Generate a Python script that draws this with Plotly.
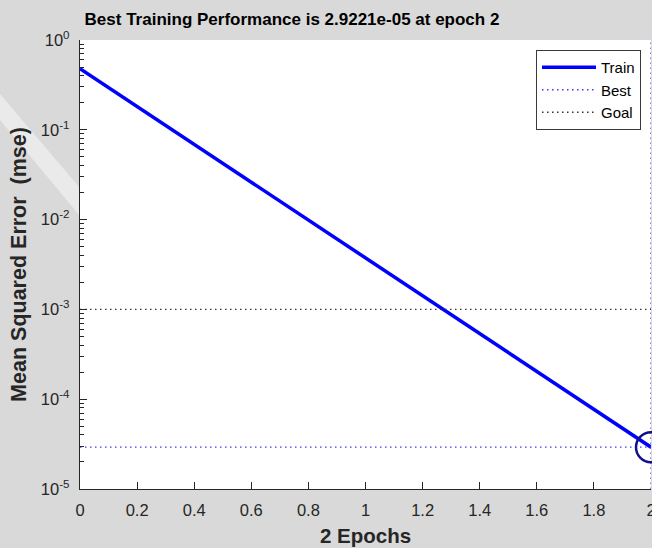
import plotly.graph_objects as go

epochs = [0, 1, 2]
train_mse = [0.48, 3.74e-3, 2.9221e-05]
best_epoch = 2
best_perf = 2.9221e-05
goal = 1e-3
x_ticks = [0, 0.2, 0.4, 0.6, 0.8, 1, 1.2, 1.4, 1.6, 1.8, 2]
x_tick_labels = ["0", "0.2", "0.4", "0.6", "0.8", "1", "1.2", "1.4", "1.6", "1.8", "2"]
y_ticks = [1, 1e-1, 1e-2, 1e-3, 1e-4, 1e-5]
y_tick_labels = ["10<sup>0</sup>", "10<sup>-1</sup>", "10<sup>-2</sup>", "10<sup>-3</sup>",
                 "10<sup>-4</sup>", "10<sup>-5</sup>"]

minor_vals = [m * 10 ** e for e in range(-5, 0) for m in range(2, 10)]

font = "Liberation Sans, Arial, sans-serif"
dotted = "1.5px,3.5px"

fig = go.Figure()
fig.add_trace(go.Scatter(x=epochs, y=train_mse, mode="lines", name="Train",
                         line=dict(color="#0000ff", width=3.5)))
fig.add_trace(go.Scatter(x=[epochs[0], epochs[-1]], y=[best_perf, best_perf], mode="lines",
                         name="Best", line=dict(color="#3c3cf0", width=1.3, dash=dotted)))
fig.add_trace(go.Scatter(x=[epochs[0], epochs[-1]], y=[goal, goal], mode="lines",
                         name="Goal", line=dict(color="#333333", width=1.3, dash=dotted)))
fig.add_trace(go.Scatter(x=[best_epoch, best_epoch], y=[1e-5, 1], mode="lines",
                         showlegend=False, line=dict(color="#3c3cf0", width=1.3, dash=dotted),
                         cliponaxis=False))
fig.add_trace(go.Scatter(x=[best_epoch], y=[best_perf], mode="markers", showlegend=False,
                         marker=dict(symbol="circle-open", size=30, color="#10108a",
                                     line=dict(width=2.5, color="#10108a")),
                         cliponaxis=False))


# faint watermark band in the figure background
def px_x(p):
    return (p - 80) / 571


def px_y(p):
    return (489 - p) / 449


band = [(0, 94), (0, 120), (80, 216), (80, 188)]
path = "M " + " L ".join(f"{px_x(a):.4f},{px_y(b):.4f}" for a, b in band) + " Z"

fig.update_layout(
    width=652, height=548,
    margin=dict(l=80, r=1, t=40, b=59, autoexpand=False),
    paper_bgcolor="#d9d9d9",
    plot_bgcolor="#ffffff",
    font=dict(family=font, size=16.5, color="#262626"),
    title=dict(text="<b>Best Training Performance is 2.9221e-05 at epoch 2</b>",
               x=292 / 652, xanchor="center", xref="container",
               y=1 - 19 / 548, yanchor="middle", yref="container",
               font=dict(size=17, color="#000000")),
    showlegend=True,
    hovermode=False,
    legend=dict(x=(641 - 80) / 571, y=px_y(50), xanchor="right", yanchor="top",
                bgcolor="#ffffff", bordercolor="#3a3a3a", borderwidth=1,
                font=dict(size=15, color="#000000"),
                itemwidth=54, tracegroupgap=0),
    shapes=[dict(type="path", path=path, xref="paper", yref="paper",
                 fillcolor="rgba(255,255,255,0.45)", line=dict(width=0), layer="below")],
    xaxis=dict(range=[0, 2], tickvals=x_ticks, ticktext=x_tick_labels, automargin=False,
               ticks="inside", ticklen=7, tickcolor="#262626", showgrid=False,
               ticklabelstandoff=6, ticklabeloverflow="allow",
               zeroline=False, showline=True, linecolor="#262626", linewidth=1.2,
               title=dict(text="<b>2 Epochs</b>", font=dict(size=20.5, color="#262626"),
                          standoff=10)),
    yaxis=dict(type="log", range=[-5, 0], tickvals=y_ticks, ticktext=y_tick_labels,
               automargin=False,
               ticks="inside", ticklen=7, tickcolor="#262626", showgrid=False,
               ticklabelstandoff=6, ticklabeloverflow="allow",
               zeroline=False, showline=True, linecolor="#262626", linewidth=1.2,
               minor=dict(tickvals=minor_vals, ticks="inside", ticklen=4,
                          tickcolor="#262626", showgrid=False),
               title=dict(text="<b>Mean Squared Error  (mse)</b>",
                          font=dict(size=21.5, color="#262626"), standoff=8)),
)

fig.write_html("out.html", post_script="document.body.style.margin='0';",
               config={"displayModeBar": False, "staticPlot": True})
